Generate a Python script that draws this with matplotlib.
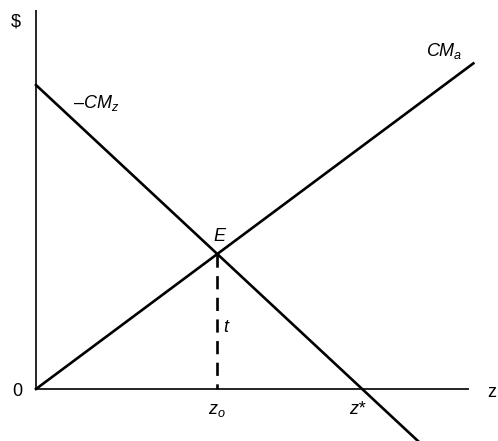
import numpy as np
import matplotlib
matplotlib.use("Agg")
import matplotlib.pyplot as plt

plt.rcParams['font.family'] = ['Liberation Sans', 'DejaVu Sans']
plt.rcParams['mathtext.fontset'] = 'custom'
plt.rcParams['mathtext.rm'] = 'Liberation Sans'
plt.rcParams['mathtext.it'] = 'Liberation Sans:italic'

# curves (data units, x axis runs 0..10)
cma_x = [0, 10.1]
cma_y = [0, 7.52]
cmz_x = [0, 8.82]
cmz_y = [7.02, -1.20]
axis_x_end = 10.0
axis_y_end = 8.75

# intersection E and z*
sa = (cma_y[1] - cma_y[0]) / (cma_x[1] - cma_x[0])
sz = (cmz_y[1] - cmz_y[0]) / (cmz_x[1] - cmz_x[0])
ex = (cmz_y[0] - cma_y[0]) / (sa - sz)
ey = sa * ex
zstar = -cmz_y[0] / sz

s = 43.3  # px per unit
fig = plt.figure(figsize=(4.98, 4.41), dpi=100)
ax = fig.add_axes([0, 0, 1, 1])
ax.set_xlim(-36 / s, (498 - 36) / s)
ax.set_ylim(-(441 - 389) / s, 389 / s)
ax.axis('off')

ax.plot([0, axis_x_end], [0, 0], color='black', lw=1.2, solid_capstyle='butt')
ax.plot([0, 0], [0, axis_y_end], color='black', lw=1.2, solid_capstyle='butt')

ax.plot(cma_x, cma_y, color='black', lw=1.9)
ax.plot(cmz_x, cmz_y, color='black', lw=1.9)
ax.plot([ex, ex], [ey, 0], color='black', lw=1.9, ls=(0, (5, 3.2)))

fs = 13
ax.text(-0.46, 8.48, r'\$', fontsize=fs, ha='center', va='center')
ax.text(-0.43, -0.05, '0', fontsize=fs, ha='center', va='center')
ax.text(10.42, -0.07, 'z', fontsize=fs, ha='left', va='center')
ax.text(ex - 0.02, -0.49, r'$z_o$', fontsize=fs, ha='center', va='center')
ax.text(zstar - 0.12, -0.47, 'z*', fontsize=fs, ha='center', va='center', style='italic')
ax.text(ex + 0.06, ey + 0.4, 'E', fontsize=fs, ha='center', va='center', style='italic')
ax.text(4.39, 1.41, 't', fontsize=fs, ha='center', va='center', style='italic')
ax.text(9.42, 7.8, r'$CM_a$', fontsize=fs, ha='center', va='center')
ax.text(1.39, 6.6, '\u2013' + r'$CM_z$', fontsize=fs, ha='center', va='center')

fig.savefig('out.png', dpi=100)
